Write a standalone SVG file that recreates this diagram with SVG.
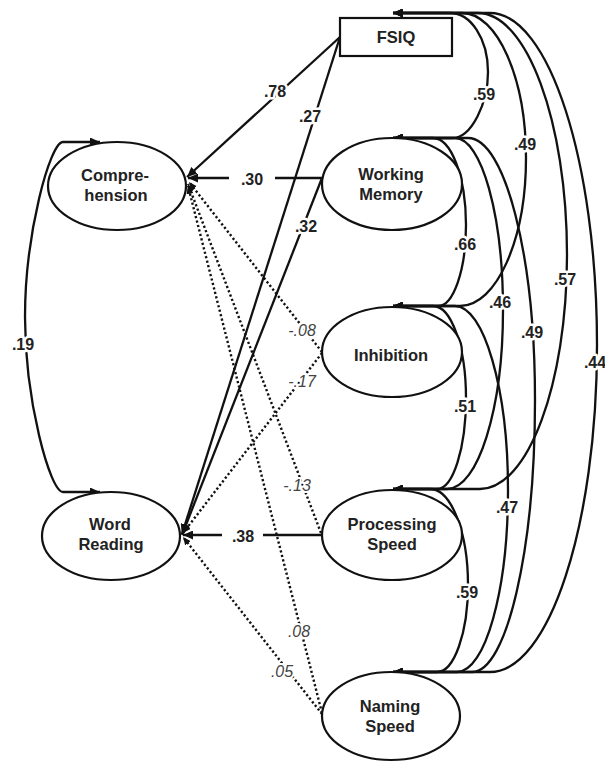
<svg xmlns="http://www.w3.org/2000/svg" width="605" height="762" viewBox="0 0 605 762">
<style>
.node{fill:#fff;stroke:#111;stroke-width:2.2}
.nt{font-family:"Liberation Sans",Arial,sans-serif;font-weight:bold;font-size:16.5px;fill:#222;text-anchor:middle}
.c{fill:none;stroke:#111;stroke-width:2.3}
.d{fill:none;stroke:#111;stroke-width:2.4;stroke-dasharray:2.2 2.4}
.lb{font-family:"Liberation Sans",Arial,sans-serif;font-weight:bold;font-size:16px;fill:#222;text-anchor:middle;stroke:#fff;stroke-width:5;paint-order:stroke;stroke-linejoin:round}
.li{font-family:"Liberation Sans",Arial,sans-serif;font-style:italic;font-size:16px;fill:#444;text-anchor:middle;stroke:#fff;stroke-width:4;paint-order:stroke;stroke-linejoin:round}
</style>
<defs>
<marker id="ah" markerUnits="userSpaceOnUse" markerWidth="10" markerHeight="9" refX="10" refY="4.5" orient="auto-start-reverse" viewBox="0 0 10 9">
<path d="M0,0 L10,4.5 L0,9 z" fill="#111"/>
</marker>
<marker id="as" markerUnits="userSpaceOnUse" markerWidth="8" markerHeight="7" refX="8" refY="3.5" orient="auto" viewBox="0 0 8 7">
<path d="M0,0 L8,3.5 L0,7 z" fill="#111"/>
</marker>
</defs>
<rect width="605" height="762" fill="#fff"/>

<g id="connectors">
<!-- paths to Comprehension -->
<path class="c" d="M340,37 L187,177" marker-end="url(#ah)"/>
<path class="c" d="M322,178 L188,178" marker-end="url(#ah)"/>
<path class="d" d="M322,352 L189,182" marker-end="url(#as)"/>
<path class="d" d="M321,533 L188,184" marker-end="url(#as)"/>
<path class="d" d="M322,713 L188,186" marker-end="url(#as)"/>
<!-- paths to Word Reading -->
<path class="c" d="M340,37 L182,534" marker-end="url(#ah)"/>
<path class="c" d="M322,178 L182,535" marker-end="url(#ah)"/>
<path class="c" d="M322,535 L183,535" marker-end="url(#ah)"/>
<path class="d" d="M322,353 L183,533" marker-end="url(#as)"/>
<path class="d" d="M322,714 L183,537" marker-end="url(#as)"/>
<!-- correlation Comprehension - Word Reading -->
<path class="c" d="M100,142 H63 C50,142 25,234 25,317 C25,400 50,492 63,492 H100" marker-start="url(#ah)" marker-end="url(#ah)"/>
<!-- correlations on the right -->
<path class="c" d="M393,13 H450 C470.4,13 488,38.2 488,72 C488,102.4 471.9,138 452,138 H393" marker-start="url(#ah)" marker-end="url(#ah)"/>
<path class="c" d="M393,13 H462 C497.3,13 526,78 526,158 C526,239.7 496.4,306 460,306 H393" marker-start="url(#ah)" marker-end="url(#ah)"/>
<path class="c" d="M393,13 H478 C526.6,13 567,121.4 567,255 C567,384.2 528,489 480,489 H393" marker-start="url(#ah)" marker-end="url(#ah)"/>
<path class="c" d="M393,13 H490 C549,13 597,161.7 597,345 C597,525.5 549,672 490,672 H393" marker-start="url(#ah)" marker-end="url(#ah)"/>
<path class="c" d="M393,138 H433 C451.2,138 466,177 466,225 C466,269.7 453.5,306 438,306 H393" marker-start="url(#ah)" marker-end="url(#ah)"/>
<path class="c" d="M393,138 H455 C481.5,138 503,215 503,310 C503,408.8 478,489 447,489 H393" marker-start="url(#ah)" marker-end="url(#ah)"/>
<path class="c" d="M393,138 H468 C505,138 535,255.4 535,400 C535,550 506.8,672 472,672 H393" marker-start="url(#ah)" marker-end="url(#ah)"/>
<path class="c" d="M393,306 H433 C451.2,306 466,347.2 466,398 C466,448.2 453,489 437,489 H393" marker-start="url(#ah)" marker-end="url(#ah)"/>
<path class="c" d="M393,306 H455 C483.7,306 508,388.4 508,490 C508,590.5 485.2,672 457,672 H393" marker-start="url(#ah)" marker-end="url(#ah)"/>
<path class="c" d="M393,489 H430 C451,489 468,532 468,585 C468,633 454.1,672 437,672 H393" marker-start="url(#ah)" marker-end="url(#ah)"/>
</g>

<g id="labels">
<rect x="229" y="170" width="46" height="16" fill="#fff"/>
<rect x="222" y="527" width="41" height="16" fill="#fff"/>
<text class="lb" x="275" y="97">.78</text>
<text class="lb" x="310" y="122">.27</text>
<text class="lb" x="252" y="185">.30</text>
<text class="lb" x="306" y="232">.32</text>
<text class="lb" x="243" y="542">.38</text>
<text class="lb" x="23" y="350">.19</text>
<text class="li" x="302" y="336">-.08</text>
<text class="li" x="302" y="387">-.17</text>
<text class="li" x="297" y="491">-.13</text>
<text class="li" x="299" y="637">.08</text>
<text class="li" x="282" y="677">.05</text>
<text class="lb" x="484" y="100">.59</text>
<text class="lb" x="525" y="150">.49</text>
<text class="lb" x="565" y="285">.57</text>
<text class="lb" x="595" y="368">.44</text>
<text class="lb" x="465" y="250">.66</text>
<text class="lb" x="500" y="308">.46</text>
<text class="lb" x="532" y="338">.49</text>
<text class="lb" x="465" y="412">.51</text>
<text class="lb" x="507" y="513">.47</text>
<text class="lb" x="467" y="598">.59</text>
</g>

<g id="fsiq">
<rect class="node" x="340" y="18" width="112" height="38"/>
<text class="nt" x="396" y="43">FSIQ</text>
</g>
<g id="comprehension">
<ellipse class="node" cx="117" cy="186" rx="69" ry="44"/>
<text class="nt" x="115" y="181">Compre-</text>
<text class="nt" x="116" y="201">hension</text>
</g>
<g id="word-reading">
<ellipse class="node" cx="111" cy="536" rx="69" ry="44"/>
<text class="nt" x="110" y="530">Word</text>
<text class="nt" x="111" y="550">Reading</text>
</g>
<g id="working-memory">
<ellipse class="node" cx="392" cy="184" rx="70" ry="46"/>
<text class="nt" x="391" y="180">Working</text>
<text class="nt" x="391" y="200">Memory</text>
</g>
<g id="inhibition">
<ellipse class="node" cx="392" cy="352" rx="70" ry="45"/>
<text class="nt" x="391" y="361">Inhibition</text>
</g>
<g id="processing-speed">
<ellipse class="node" cx="392" cy="535" rx="70" ry="45"/>
<text class="nt" x="392" y="530">Processing</text>
<text class="nt" x="392" y="550">Speed</text>
</g>
<g id="naming-speed">
<ellipse class="node" cx="391" cy="716" rx="69" ry="44"/>
<text class="nt" x="390" y="712">Naming</text>
<text class="nt" x="390" y="732">Speed</text>
</g>
</svg>
